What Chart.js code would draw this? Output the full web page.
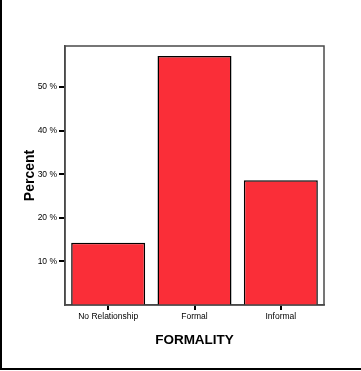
<!DOCTYPE html>
<html>
<head>
<meta charset="utf-8">
<script src="https://cdn.jsdelivr.net/npm/chart.js@4"></script>
<style>
html,body{margin:0;padding:0;background:#fff;}
#wrap{width:361px;height:371px;position:relative;}
</style>
</head>
<body>
<div id="wrap"><canvas id="c" width="361" height="371"></canvas></div>
<script>
const categories = ["No Relationship", "Formal", "Informal"];
const percentValues = [14.3, 57.1, 28.6];
const yTickValues = [10, 20, 30, 40, 50];
const xAxisTitle = "FORMALITY";
const yAxisTitle = "Percent";

const framePlugin = {
  id: 'frame',
  afterDraw(chart) {
    const ctx = chart.ctx;
    const a = chart.chartArea;
    ctx.save();
    ctx.strokeStyle = '#4a4a4a';
    ctx.lineWidth = 1.5;
    ctx.strokeRect(a.left, a.top, a.right - a.left, a.bottom - a.top);
    ctx.strokeStyle = '#000';
    ctx.lineWidth = 2;
    ctx.beginPath();
    ctx.moveTo(1, 0);
    ctx.lineTo(1, 369);
    ctx.lineTo(361, 369);
    ctx.stroke();
    ctx.restore();
  }
};

new Chart(document.getElementById('c'), {
  type: 'bar',
  data: {
    labels: categories,
    datasets: [{
      data: percentValues,
      backgroundColor: 'rgb(250,46,56)',
      borderColor: '#000',
      borderWidth: 1.5,
      borderSkipped: 'bottom',
      barPercentage: 0.857,
      categoryPercentage: 1.0
    }]
  },
  options: {
    responsive: false,
    animation: false,
    devicePixelRatio: 1,
    layout: { padding: { left: 0, top: 46, right: 37, bottom: 0 } },
    plugins: { legend: { display: false }, tooltip: { enabled: false } },
    scales: {
      x: {
        afterFit(s) { s.height = 66; },
        grid: { offset: false, drawOnChartArea: false, drawTicks: true, tickLength: 5, color: '#000', lineWidth: 2 },
        border: { display: true, color: '#4a4a4a', width: 1.5 },
        ticks: { color: '#000', font: { family: 'Liberation Sans, Arial', size: 8.5 }, padding: 2, maxRotation: 0 },
        title: { display: true, text: xAxisTitle, color: '#000',
                 font: { family: 'Liberation Sans, Arial', size: 13.5, weight: 'bold' },
                 padding: { top: 0, bottom: 23 } }
      },
      y: {
        min: 0,
        max: 59.4,
        afterFit(s) { s.width = 65; },
        afterBuildTicks(s) { s.ticks = yTickValues.map(v => ({ value: v })); },
        grid: { drawOnChartArea: false, drawTicks: true, tickLength: 6, color: '#000', lineWidth: 2 },
        border: { display: true, color: '#4a4a4a', width: 1.5 },
        ticks: { color: '#000', font: { family: 'Liberation Sans, Arial', size: 8.5 }, padding: 2,
                 callback: v => v + ' %' },
        title: { display: true, text: yAxisTitle, color: '#000',
                 font: { family: 'Liberation Sans, Arial', size: 14, weight: 'bold' },
                 padding: { top: 22, bottom: 0 } }
      }
    }
  },
  plugins: [framePlugin]
});
</script>
</body>
</html>
